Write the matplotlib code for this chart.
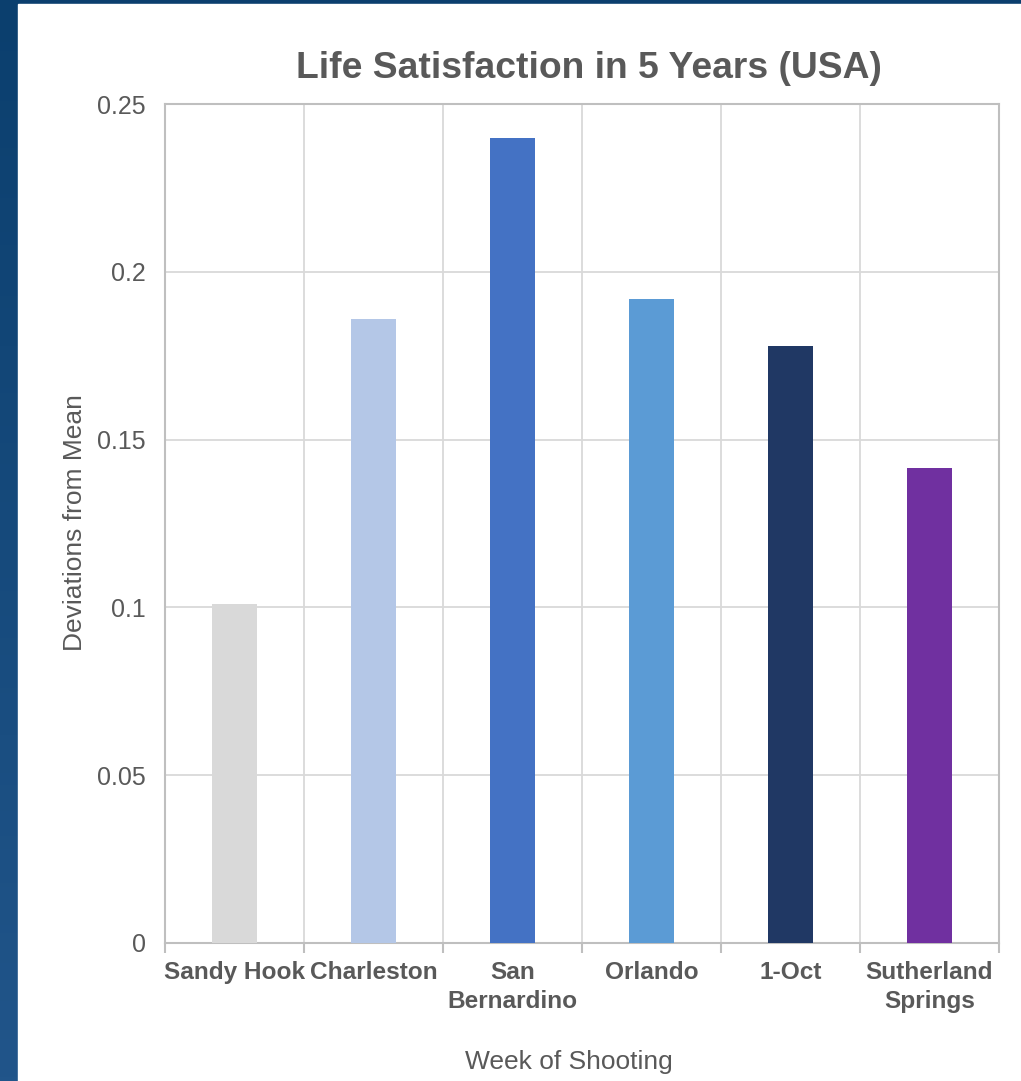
import numpy as np
import matplotlib
matplotlib.use("Agg")
import matplotlib.pyplot as plt
from matplotlib.colors import LinearSegmentedColormap

plt.rcParams['font.family'] = ['Liberation Sans', 'DejaVu Sans']

categorias = ['Sandy Hook', 'Charleston', 'San\nBernardino', 'Orlando', '1-Oct', 'Sutherland\nSprings']
valores = [0.101, 0.186, 0.240, 0.192, 0.178, 0.1415]
colores = ['#D9D9D9', '#B4C7E7', '#4472C4', '#5B9BD5', '#203864', '#7030A0']
yticks = [0, 0.05, 0.1, 0.15, 0.2, 0.25]
yticklabels = ['0', '0.05', '0.1', '0.15', '0.2', '0.25']

W, H = 1021, 1081
fig = plt.figure(figsize=(W / 100, H / 100), dpi=100)

# fondo azul (franja izquierda y superior)
bg = fig.add_axes([0, 0, 1, 1])
grad = np.linspace(0, 1, 256).reshape(-1, 1)
cmap = LinearSegmentedColormap.from_list('fondo', ['#0B3F6E', '#21558A'])
bg.imshow(grad, cmap=cmap, aspect='auto', extent=[0, 1, 0, 1], origin='upper')
bg.add_patch(plt.Rectangle((18 / W, 0), 1 - 18 / W, 1 - 4 / H, color='white'))
bg.set_xlim(0, 1)
bg.set_ylim(0, 1)
bg.axis('off')

gris = '#595959'
ax = fig.add_axes([165 / W, (H - 943) / H, 834 / W, 839 / H])
x = np.arange(len(categorias))
ax.bar(x, valores, width=0.317, color=colores, zorder=3)

ax.set_xlim(-0.5, len(categorias) - 0.5)
ax.set_ylim(0, 0.25)
ax.set_yticks(yticks)
ax.set_yticklabels(yticklabels, fontsize=18, color=gris)
ax.set_xticks(x)
ax.set_xticklabels(categorias, fontsize=17.6, fontweight='bold', color=gris,
                   linespacing=1.32)
ax.set_xticks(np.arange(-0.5, len(categorias)), minor=True)
ax.tick_params(axis='x', which='major', length=0, pad=13)
ax.tick_params(axis='x', which='minor', length=7, color='#BFBFBF', width=1.5)
ax.tick_params(axis='y', length=0, pad=14)

ax.grid(axis='y', color='#D9D9D9', linewidth=1.3, zorder=0)
ax.grid(axis='x', which='minor', color='#D9D9D9', linewidth=1.3, zorder=0)
for lado in ['left', 'right', 'top', 'bottom']:
    ax.spines[lado].set_color('#BFBFBF')
    ax.spines[lado].set_linewidth(1.5)

fig.text(75 / W, 1 - 523 / H, 'Deviations from Mean', fontsize=19, color=gris,
         ha='center', va='center', rotation=90)
fig.text(569 / W, 1 - 1062 / H, 'Week of Shooting', fontsize=19, color=gris,
         ha='center', va='center')
fig.text(589 / W, 1 - 68 / H, 'Life Satisfaction in 5 Years (USA)', fontsize=26.8,
         fontweight='bold', color=gris, ha='center', va='center')

fig.savefig('out.png', dpi=100)
